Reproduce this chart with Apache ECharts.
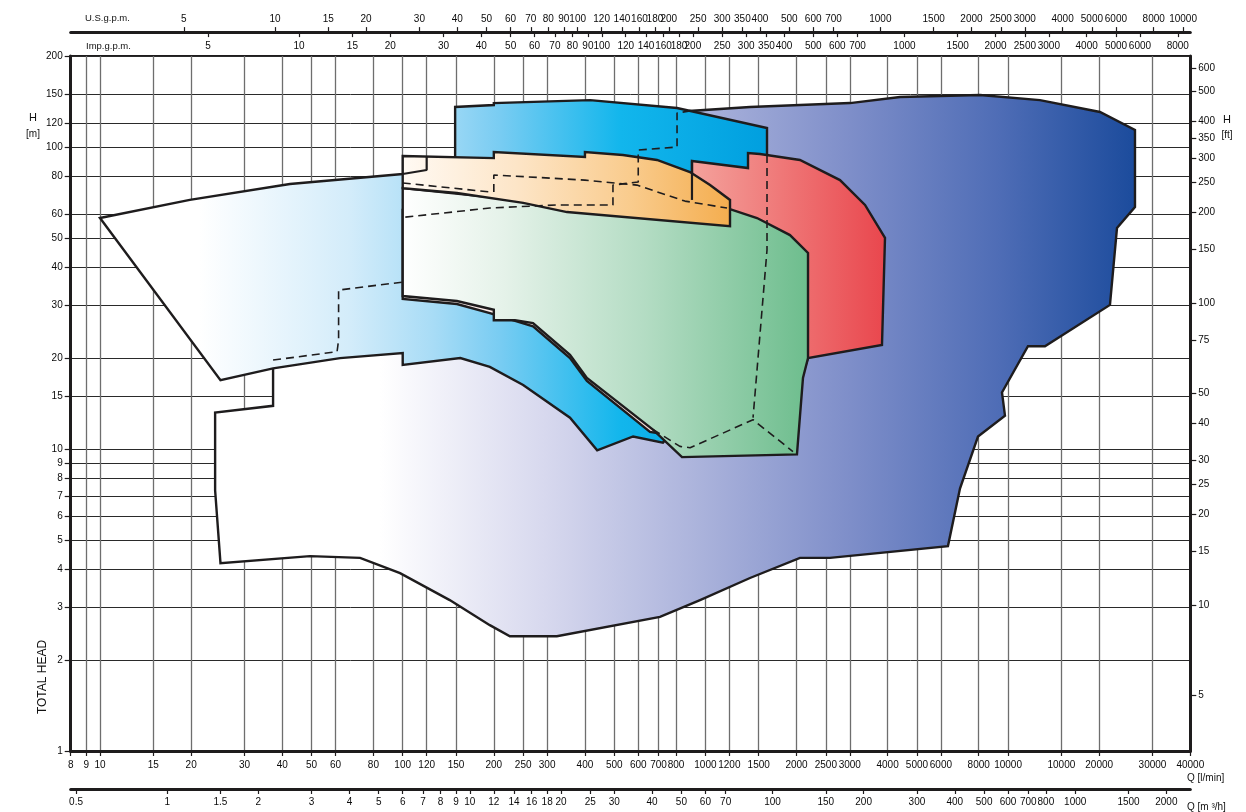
<!DOCTYPE html>
<html><head><meta charset="utf-8">
<script src="https://cdn.jsdelivr.net/npm/echarts@6/dist/echarts.min.js"></script>
<style>html,body{margin:0;padding:0;background:#fff}#c{width:1246px;height:812px}</style>
</head><body><div id="c"></div>
<script>
// ---- tick labels ----
const qTicks = [8,9,10,15,20,30,40,50,60,80,100,120,150,200,250,300,400,500,600,700,800,1000,1200,1500,2000,2500,3000,4000,5000,6000,8000,10000,15000,20000,30000,40000];
const m3hTicks = [0.5,1,1.5,2,3,4,5,6,7,8,9,10,12,14,16,18,20,25,30,40,50,60,70,100,150,200,300,400,500,600,700,800,1000,1500,2000];
const usTicks = [5,10,15,20,30,40,50,60,70,80,90,100,120,140,160,180,200,250,300,350,400,500,600,700,1000,1500,2000,2500,3000,4000,5000,6000,8000,10000];
const impTicks = [5,10,15,20,30,40,50,60,70,80,90,100,120,140,160,180,200,250,300,350,400,500,600,700,1000,1500,2000,2500,3000,4000,5000,6000,8000];
const hTicks = [1,2,3,4,5,6,7,8,9,10,15,20,30,40,50,60,80,100,120,150,200];
const ftTicks = [5,10,15,20,25,30,40,50,75,100,150,200,250,300,350,400,500,600];

// ---- performance ranges: [Q l/min, H m] ----
const outerRange = [[37.3,19.7],[37.3,13.9],[24,13.2],[24,7.3],[25,4.19],[49.4,4.42],[72.3,4.36],[98,3.88],[143,3.16],[194,2.61],[226,2.4],[323,2.4],[708,2.78],[960,3.16],[1404,3.74],[2053,4.36],[2579,4.36],[6330,4.77],[6936,7.4],[7954,11.0],[9768,12.9],[9548,15.4],[11634,21.9],[13240,21.9],[21710,30],[22900,53.9],[26260,63.3],[26260,113.8],[20120,130.6],[12746,143],[8077,148.7],[4395,146.4],[3004,139.8],[1404,135.7],[890,131.6],[890,66.8],[155,31.1],[62.1,21.3]];
const blueRange = [[10,58.2],[19.8,66.8],[42.4,75.4],[100,81.4],[120,83.9],[149,87.2],[149,135.7],[200,137.7],[200,139.8],[416,143],[806,134.6],[1598,115.6],[1598,94.1],[1598,66.8],[960,14.5],[724,10.5],[577,11.0],[439,9.9],[357,12.7],[250,16.3],[194,18.7],[155,20.0],[100,19.0],[100,20.8],[62.1,20.0],[37.3,18.5],[25,16.9]];
const redRange = [[903,89.9],[1383,85.2],[1383,95.5],[1515,94.8],[2053,90.6],[2784,77.7],[3368,64.3],[3921,50.0],[3832,22.1],[2183,20.0],[1764,10.7],[960,10.7],[656,11.4],[406,16.8],[357,20.0],[269.5,25.5],[194,28.2],[151,30.2],[100,31.4],[100,61.9],[903,66.8]];
const greenRange = [[100,73.1],[349,64.3],[1206,62.3],[1481,58.2],[1903,51.1],[2183,44.6],[2183,20.0],[2101,17.2],[2007,9.6],[837,9.4],[671,11.6],[406,17.2],[357,20.5],[269.5,26.1],[235,26.7],[200,26.7],[200,28.9],[151,30.9],[100,32.1]];
const orangeRange = [[100,93.4],[200,91.9],[200,96.3],[400,92.7],[400,96.3],[534,94.1],[692,90.6],[889.5,82.6],[1036,74.8],[1206,66.8],[1206,54.7],[349,60.9],[250,65.3],[151,70.4],[100,73.1]];

// ---- dashed sub-ranges ----
const dash1 = [[37.3,19.7],[60.7,21.0],[61.4,23.0],[61.4,33.6],[100,35.7]];
const dash2 = [[100,76.0],[194,71.0]];
const dash3 = [[200,71.0],[200,80.8],[400,77.7],[594,74.8],[856,66.2],[1179,62.8]];
const dash4 = [[102,58.6],[194,62.8],[323,64.3],[495,64.3],[495,74.8],[600,76.6],[600,97.7],[806,100],[806,129.6],[890,131.6]];
const dash5 = [[1598,94.1],[1598,45.6],[1437,12.7]];
const dash6 = [[671,11.6],[824,10.2],[890,10.1],[1437,12.5],[1947,9.8]];
// ---- solid edges seen through ----
const edge1 = [[100,81.4],[120,83.9],[120,93.4]];
const edge2 = [[903,89.9],[903,66.8]];

const FONT = "'Liberation Sans Narrow','Liberation Sans',Arial,sans-serif";
const FONT2 = "'Liberation Sans',Arial,sans-serif";
const INK = '#1e1c1d';

function poly(pts, stops, z) {
  return {
    type: 'custom', z: z, silent: true, xAxisIndex: 0, yAxisIndex: 0,
    data: pts,
    renderItem: function (params, api) {
      if (params.dataIndex !== 0) return null;
      const points = pts.map(p => api.coord(p));
      return {
        type: 'polygon', shape: { points: points },
        style: { fill: new echarts.graphic.LinearGradient(0, 0, 1, 0, stops), stroke: INK, lineWidth: 2.4, lineJoin: 'miter' }
      };
    }
  };
}
function line(pts, dashed, z) {
  return {
    type: 'line', z: z, silent: true, data: pts, showSymbol: false, symbol: 'none',
    xAxisIndex: 0, yAxisIndex: 0, animation: false,
    lineStyle: dashed ? { color: INK, width: 1.6, type: [8, 5] } : { color: INK, width: 2.2 }
  };
}
function st(arr) { return arr.map(a => ({ offset: a[0], color: a[1] })); }
const fmt = v => String(v);
const lab = (vals, extra) => Object.assign({ customValues: vals, fontSize: 10, color: '#0a0a0a', fontFamily: FONT, formatter: fmt }, extra || {});

const chart = echarts.init(document.getElementById('c'), null, { renderer: 'canvas' });
chart.setOption({
  animation: false,
  backgroundColor: '#fff',
  grid: { left: 70.7, top: 56.1, width: 1119.6, height: 694.9, show: true, borderColor: INK, borderWidth: 2, containLabel: false, outerBoundsMode: 'none' },
  xAxis: [
    { type: 'log', min: 8, max: 40000, position: 'bottom',
      axisLine: { show: true, onZero: false, lineStyle: { color: INK, width: 3 } },
      axisTick: { show: true, length: 5, customValues: qTicks, lineStyle: { color: INK, width: 1.2 } },
      axisLabel: lab(qTicks, { margin: 9, formatter: v => (Math.round(v) === 15000 ? '10000' : String(v)) }),
      splitLine: { show: true, lineStyle: { color: '#6e6e6e', width: 1.3 } },
      minorTick: { show: false }, minorSplitLine: { show: false } },
    { type: 'log', min: 0.48, max: 2400, position: 'bottom', offset: 38,
      axisLine: { show: true, onZero: false, lineStyle: { color: INK, width: 3 } },
      axisTick: { show: true, length: 5, customValues: m3hTicks, lineStyle: { color: INK, width: 1.2 } },
      axisLabel: lab(m3hTicks, { margin: 8 }),
      splitLine: { show: false } },
    { type: 'log', min: 8 / 3.785, max: 40000 / 3.785, position: 'top', offset: 24,
      axisLine: { show: true, onZero: false, lineStyle: { color: INK, width: 3 } },
      axisTick: { show: true, length: 5, customValues: usTicks, lineStyle: { color: INK, width: 1.2 } },
      axisLabel: lab(usTicks, { margin: 8 }),
      splitLine: { show: false } },
    { type: 'log', min: 8 / 4.546, max: 40000 / 4.546, position: 'top', offset: 24,
      axisLine: { show: false },
      axisTick: { show: true, inside: true, length: 5, customValues: impTicks, lineStyle: { color: INK, width: 1.2 } },
      axisLabel: lab(impTicks, { inside: true, margin: 9 }),
      splitLine: { show: false } }
  ],
  yAxis: [
    { type: 'log', min: 1, max: 200, position: 'left',
      axisLine: { show: true, onZero: false, lineStyle: { color: INK, width: 3 } },
      axisTick: { show: true, length: 6, customValues: hTicks, lineStyle: { color: INK, width: 1.2 } },
      axisLabel: lab(hTicks, { margin: 8, fontFamily: FONT2 }),
      splitLine: { show: true, lineStyle: { color: '#2a2a2a', width: 1 } },
      minorTick: { show: false }, minorSplitLine: { show: false } },
    { type: 'log', min: 3.28084, max: 656.168, position: 'right',
      axisLine: { show: true, onZero: false, lineStyle: { color: INK, width: 3 } },
      axisTick: { show: true, length: 6, customValues: ftTicks, lineStyle: { color: INK, width: 1.2 } },
      axisLabel: lab(ftTicks, { margin: 8, fontFamily: FONT2 }),
      splitLine: { show: false } }
  ],
  graphic: [
    { type: 'text', x: 85, y: 18, style: { text: 'U.S.g.p.m.', fontSize: 9.5, fontFamily: FONT, fill: '#111', verticalAlign: 'middle' } },
    { type: 'text', x: 86, y: 46, style: { text: 'Imp.g.p.m.', fontSize: 9.5, fontFamily: FONT, fill: '#111', verticalAlign: 'middle' } },
    { type: 'text', x: 33, y: 118, style: { text: 'H', fontSize: 11, fontFamily: FONT2, fill: '#111', align: 'center', verticalAlign: 'middle' } },
    { type: 'text', x: 33, y: 134, style: { text: '[m]', fontSize: 10, fontFamily: FONT2, fill: '#111', align: 'center', verticalAlign: 'middle' } },
    { type: 'text', x: 1227, y: 120, style: { text: 'H', fontSize: 11, fontFamily: FONT2, fill: '#111', align: 'center', verticalAlign: 'middle' } },
    { type: 'text', x: 1227, y: 135, style: { text: '[ft]', fontSize: 10, fontFamily: FONT2, fill: '#111', align: 'center', verticalAlign: 'middle' } },
    { type: 'text', x: 43, y: 677, rotation: Math.PI / 2, style: { text: 'TOTAL HEAD', fontSize: 12, fontFamily: FONT2, fill: '#111', align: 'center', verticalAlign: 'middle' } },
    { type: 'text', x: 1187, y: 778, style: { text: 'Q [l/min]', fontSize: 10, fontFamily: FONT2, fill: '#111', verticalAlign: 'middle' } },
    { type: 'text', x: 1187, y: 807, style: { text: 'Q [m ³/h]', fontSize: 10, fontFamily: FONT2, fill: '#111', verticalAlign: 'middle' } }
  ],
  series: [
    poly(outerRange, st([[0,'#ffffff'],[0.18,'#ffffff'],[0.36,'#d7d8ee'],[0.53,'#aab2db'],[0.69,'#7e8ec9'],[0.85,'#4f6db6'],[1,'#1b4b9c']]), 2),
    poly(blueRange, st([[0,'#ffffff'],[0.15,'#ffffff'],[0.375,'#d3ecfa'],[0.5,'#a8dcf6'],[0.6,'#78ccf2'],[0.78,'#12b6ec'],[1,'#009fdf']]), 3),
    poly(redRange, st([[0,'#fff5f3'],[0.5,'#fcdcd8'],[0.6,'#f4a29c'],[1,'#e9464d']]), 4),
    poly(greenRange, st([[0,'#ffffff'],[0.25,'#e5f2e9'],[0.6,'#b3dcc3'],[1,'#6dbd8d']]), 5),
    poly(orangeRange, st([[0,'#fffaf4'],[0.35,'#fde5c7'],[0.7,'#f9cb8c'],[1,'#f4ad4e']]), 6),
    line(dash1, true, 8), line(dash2, true, 8), line(dash3, true, 8),
    line(dash4, true, 8), line(dash5, true, 8), line(dash6, true, 8),
    line(edge1, false, 9), line(edge2, false, 9)
  ]
});
</script></body></html>
